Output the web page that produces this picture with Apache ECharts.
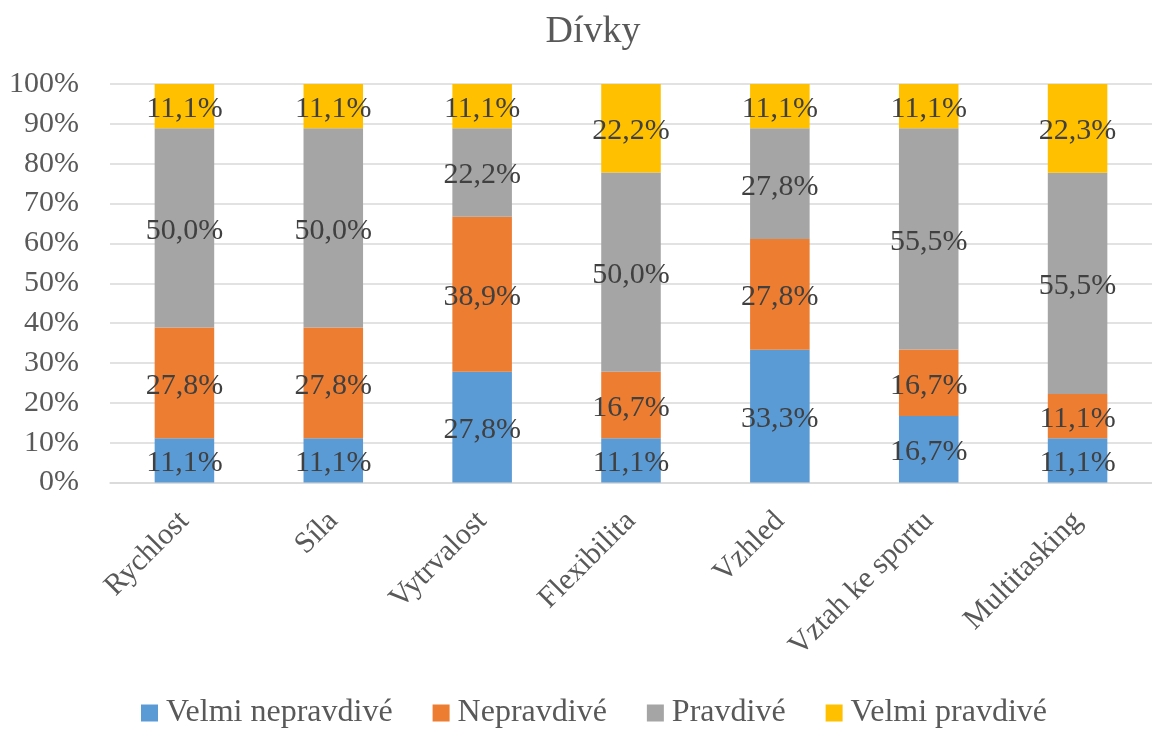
<!DOCTYPE html>
<html><head><meta charset="utf-8">
<script src="https://cdn.jsdelivr.net/npm/echarts@6/dist/echarts.min.js"></script>
<style>html,body{margin:0;padding:0;background:#fff}#c{width:1152px;height:729px}</style>
</head><body><div id="c"></div>
<script>
const categories = ['Rychlost','Síla','Vytrvalost','Flexibilita','Vzhled','Vztah ke sportu','Multitasking'];
const velmiNepravdive = [11.1, 11.1, 27.8, 11.1, 33.3, 16.7, 11.1];
const nepravdive = [27.8, 27.8, 38.9, 16.7, 27.8, 16.7, 11.1];
const pravdive = [50.0, 50.0, 22.2, 50.0, 27.8, 55.5, 55.5];
const velmiPravdive = [11.1, 11.1, 11.1, 22.2, 11.1, 11.1, 22.3];
const seriesNames = ['Velmi nepravdivé','Nepravdivé','Pravdivé','Velmi pravdivé'];
const colors = ['#5B9BD5','#ED7D31','#A5A5A5','#FFC000'];
const yTicks = [0,10,20,30,40,50,60,70,80,90,100];

const font = '"Liberation Serif", "Times New Roman", serif';
const chart = echarts.init(document.getElementById('c'));
const dataSets = [velmiNepravdive, nepravdive, pravdive, velmiPravdive];
chart.setOption({
  animation: false,
  color: colors,
  title: {
    text: 'Dívky', left: 588, top: 8, textAlign: 'center',
    textStyle: {fontFamily: font, fontSize: 38, fontWeight: 'normal', color: '#595959'}
  },
  legend: {
    top: 692, left: 136, itemWidth: 17, itemHeight: 17, itemGap: 40,
    icon: 'rect',
    textStyle: {fontFamily: font, fontSize: 32, lineHeight: 32, color: '#595959', padding: [0, 0, 0, 3]},
    data: seriesNames
  },
  grid: {left: 110, top: 84, width: 1053, height: 398.5, containLabel: false},
  xAxis: {
    type: 'category', data: categories,
    axisLine: {lineStyle: {color: '#D9D9D9', width: 1.5}},
    axisTick: {show: false},
    axisLabel: {rotate: 45, margin: 34, fontFamily: font, fontSize: 30, color: '#595959', interval: 0}
  },
  yAxis: {
    type: 'value', min: 0, max: 100, interval: 10,
    axisLine: {show: false}, axisTick: {show: false},
    splitLine: {lineStyle: {color: '#D9D9D9', width: 1.5}},
    axisLabel: {margin: 31, fontFamily: font, fontSize: 30, color: '#595959',
      formatter: v => yTicks.includes(v) ? v + '%' : ''}
  },
  series: seriesNames.map((n, i) => ({
    name: n, type: 'bar', stack: 'total', barWidth: '40%',
    data: dataSets[i],
    itemStyle: {color: colors[i]},
    label: {show: true, position: 'inside', offset: [0, 3], fontFamily: font, fontSize: 30, color: '#404040',
      formatter: p => p.value.toFixed(1).replace('.', ',') + '%'}
  }))
});
</script></body></html>
